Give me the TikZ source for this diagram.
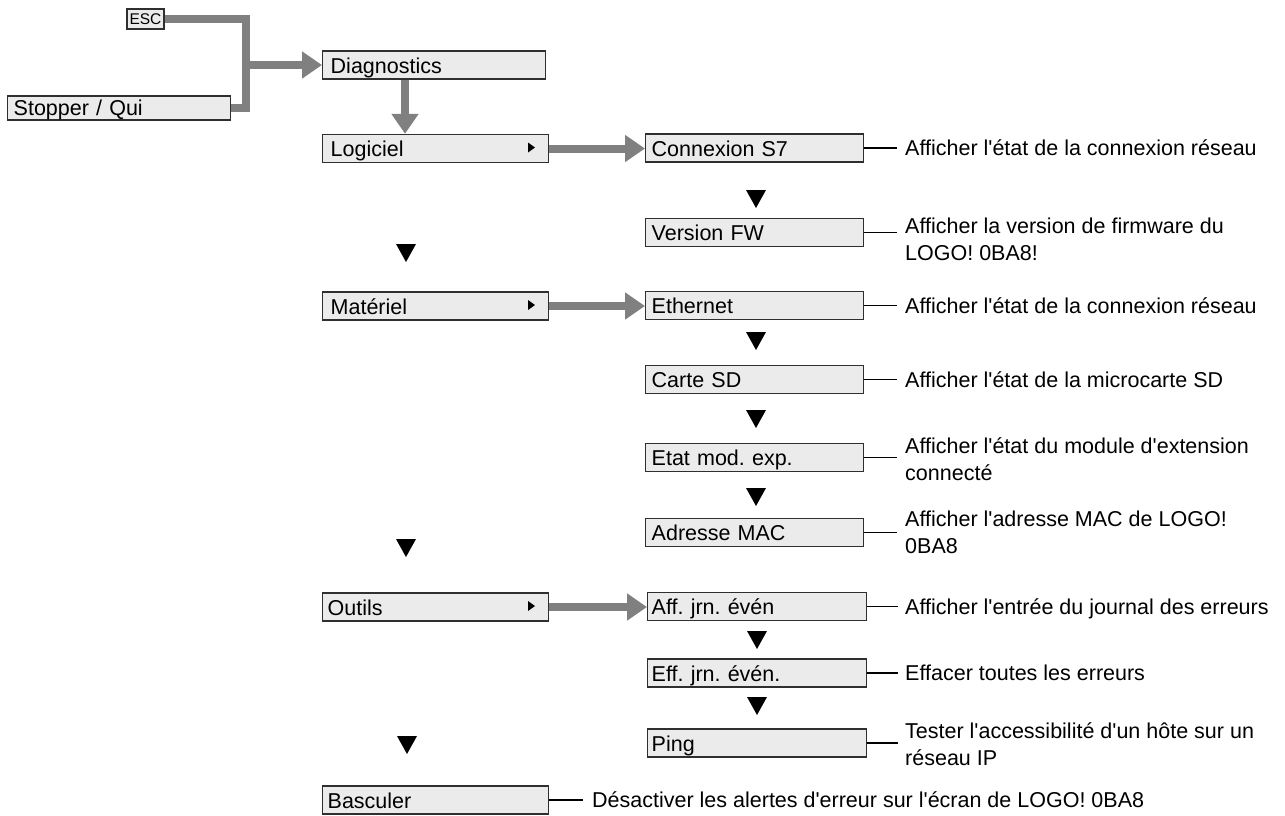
\documentclass[tikz,border=0pt]{standalone}
\usepackage{fontspec}
\setmainfont{Liberation Sans}[Ligatures=TeXOff]
\usetikzlibrary{arrows.meta}
\definecolor{boxfill}{HTML}{EBEBEB}
\definecolor{garrowc}{HTML}{808080}
\definecolor{edgec}{HTML}{2F2F2F}
\newcommand\dtri[2]{\fill (#1-10,#2-9) -- (#1+10,#2-9) -- (#1,#2+9) -- cycle;}
\newcommand\rtri[2]{\fill (#1,#2-5) -- (#1+7,#2) -- (#1,#2+5) -- cycle;}
\newcommand\twol[2]{\vtop{\hbox{#1}\hbox{#2}}}
\frenchspacing
\begin{document}
\frenchspacing
\begin{tikzpicture}[x=1pt,y=-1pt,
  fnt/.style={font=\fontsize{21.5}{27}\selectfont\frenchspacing},
  box/.style={fnt, draw=edgec, line width=1.4pt, fill=boxfill, minimum height=28pt,
    inner ysep=0pt, text height=16pt, text depth=0pt, align=left, anchor=west},
  lbox/.style={box, inner xsep=8pt, text width=210pt},
  rbox/.style={box, inner xsep=6pt, text width=206pt},
  r2box/.style={box, inner xsep=4pt, text width=211pt},
  desc/.style={fnt, anchor=base west, inner sep=0pt},
  gline/.style={draw=garrowc, line width=8pt},
  garrow/.style={gline, -{Triangle[length=20pt,width=26pt]}},
  tline/.style={draw=black, line width=1.8pt}]
\useasboundingbox (0,0) rectangle (1285,815);

% top-left
\node[draw=edgec, fill=boxfill, line width=1.3pt, font=\fontsize{15.5}{17}\selectfont,
  minimum width=37pt, minimum height=20pt, inner sep=1pt] (esc) at (145.5,19) {ESC};
\node[box, inner xsep=6pt, text width=211pt, minimum height=24pt, text height=15pt] (stop) at (7,108) {Stopper / Qui};

% left column
\node[lbox, text width=207pt] (diag) at (322,65) {Diagnostics};
\node[lbox] (log) at (322,148.5) {Logiciel};
\node[lbox] (mat) at (322,306) {Matériel};
\node[lbox, inner xsep=5pt, text width=216pt] (out) at (322,607) {Outils};
\node[lbox, inner xsep=5pt, text width=216pt] (bas) at (322,800) {Basculer};

% right column
\node[rbox] (con) at (645,148) {Connexion S7};
\node[rbox] (ver) at (645,232.5) {Version FW};
\node[rbox] (eth) at (645,305.5) {Ethernet};
\node[rbox] (sd) at (645,379.5) {Carte SD};
\node[rbox] (etat) at (645,457.5) {Etat mod. exp.};
\node[rbox] (mac) at (645,532.5) {Adresse MAC};
\node[r2box] (aff) at (647,606.5) {Aff. jrn. évén};
\node[r2box] (eff) at (647,673) {Eff. jrn. évén.};
\node[r2box] (ping) at (647,743) {Ping};

% descriptions
\node[desc] (dcon) at (905,155.5) {Afficher l'état de la connexion réseau};
\node[desc] (dver) at (905,233) {\twol{Afficher la version de firmware du}{LOGO! 0BA8!}};
\node[desc] (deth) at (905,313) {Afficher l'état de la connexion réseau};
\node[desc] (dsd) at (905,387) {Afficher l'état de la microcarte SD};
\node[desc] (detat) at (905,453) {\twol{Afficher l'état du module d'extension}{connecté}};
\node[desc] (dmac) at (905,526) {\twol{Afficher l'adresse MAC de LOGO!}{0BA8}};
\node[desc] (daff) at (905,614) {Afficher l'entrée du journal des erreurs};
\node[desc] (deff) at (905,680.5) {Effacer toutes les erreurs};
\node[desc] (dping) at (905,738) {\twol{Tester l'accessibilité d'un hôte sur un}{réseau IP}};
\node[desc] (dbas) at (592,807.5) {Désactiver les alertes d'erreur sur l'écran de LOGO! 0BA8};

% thin connectors
\foreach \n in {con,ver,eth,sd,etat,mac}{\draw[tline] (\n.east) -- ++(33,0);}
\foreach \n in {aff,eff,ping}{\draw[tline] (\n.east) -- ++(31,0);}
\draw[tline] (bas.east) -- ++(34,0);

% gray arrows
\coordinate (j) at (246,65);
\draw[gline] (esc.east) -| (j) |- (stop.east);
\draw[garrow] (j) -- (diag.west);
\draw[garrow] ([xshift=83pt]diag.south west) -- ([xshift=83pt]log.north west);
\draw[garrow] (log.east) -- (log.east -| con.west);
\draw[garrow] (mat.east) -- (mat.east -| eth.west);
\draw[garrow] (out.east) -- (out.east -| aff.west);

% small menu markers
\rtri{528}{147.5}
\rtri{528}{305}
\rtri{528}{606}

% down triangles
\dtri{756}{199}
\dtri{756}{341}
\dtri{756}{419}
\dtri{756}{497}
\dtri{757}{640}
\dtri{757}{706}
\dtri{406}{253}
\dtri{406}{548}
\dtri{407}{745}
\end{tikzpicture}
\end{document}
